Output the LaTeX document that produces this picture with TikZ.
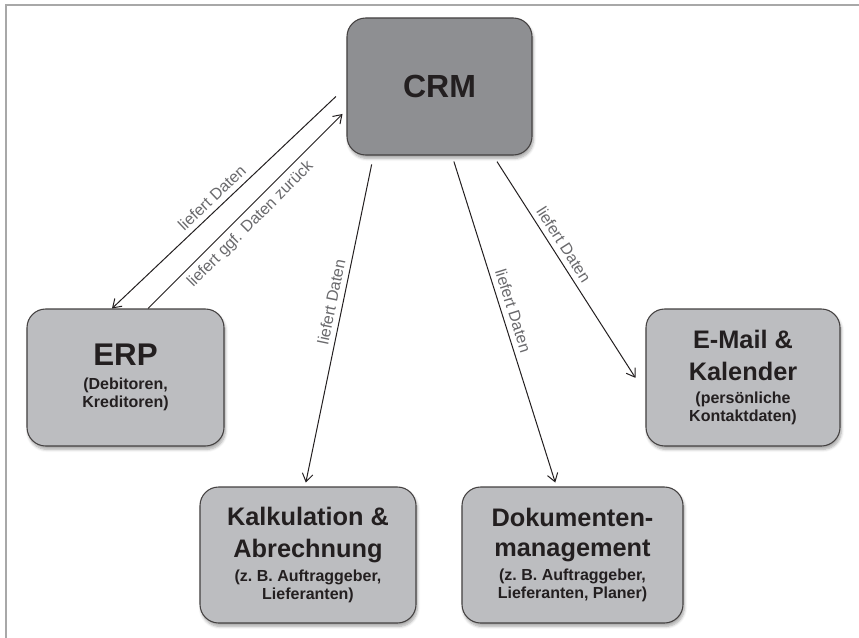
\documentclass[tikz,border=0pt]{standalone}
\usepackage{fontspec}
\setmainfont{Liberation Sans}
\usetikzlibrary{arrows.meta,shadows.blur}
\definecolor{boxgray}{RGB}{188,189,192}
\definecolor{crmgray}{RGB}{142,143,146}
\definecolor{ink}{RGB}{35,31,32}
\definecolor{labgray}{RGB}{105,105,108}
\definecolor{framegray}{RGB}{168,168,168}
\newcommand\boxhead{\fontsize{19}{23}\selectfont}
\begin{document}
\begin{tikzpicture}[x=0.75pt,y=-0.75pt,line width=0.75pt,>={Straight Barb[length=6pt,width=8pt]},
box/.style={draw=ink!85,line width=0.8pt,fill=boxgray,rounded corners=14pt,align=center,text=ink,font=\bfseries\fontsize{12}{13.5}\selectfont,blur shadow={shadow xshift=1pt,shadow yshift=-2.5pt,shadow blur steps=6,shadow opacity=35}},
lab/.style={sloped,above=2pt,inner sep=2pt,text=labgray,font=\fontsize{12}{14}\selectfont},
lab1/.style={sloped,below=2pt,inner sep=2pt,text=labgray,font=\fontsize{12}{14}\selectfont}]
\useasboundingbox (0,0) rectangle (859,638);
\draw[framegray,line width=1.3pt] (5.8,638) -- (5.8,4.8) -- (859,4.8);
\node[box,fill=crmgray,minimum width=138.75pt,minimum height=102.75pt] (crm) at (439.5,86.5) {\fontsize{24}{28}\selectfont CRM};
\node[box,minimum width=147.75pt,minimum height=102.75pt] (erp) at (125.5,377.5) {{\fontsize{23.5}{28}\selectfont ERP}\\[4pt](Debitoren,\\Kreditoren)};
\node[box,minimum width=162pt,minimum height=102pt] (kalk) at (308,555) {{\boxhead Kalkulation \&}\\[9pt]{\boxhead Abrechnung}\\[4pt](z.~B. Auftraggeber,\\Lieferanten)};
\node[box,minimum width=165.75pt,minimum height=102pt] (dok) at (572.5,555) {{\boxhead Dokumenten-}\\[9pt]{\boxhead management}\\[4pt](z.~B. Auftraggeber,\\Lieferanten, Planer)};
\node[box,minimum width=145.5pt,minimum height=102.75pt] (mail) at (743,377.5) {{\boxhead E-Mail \&}\\[9pt]{\boxhead Kalender}\\[4pt](persönliche\\Kontaktdaten)};
\draw[ink,->,shorten <=10.9pt] (crm.west) -- ([shift={(-13.5,0)}]erp.north) node[lab,pos=0.54]{liefert Daten};
\draw[ink,->,shorten >=4.2pt] ([shift={(22.5,0)}]erp.north) -- ([shift={(0,23.5)}]crm.west) node[lab1,pos=0.47]{liefert ggf. Daten zurück};
\draw[ink,->,shorten <=6.8pt,shorten >=3pt] ([shift={(-66,0)}]crm.south) -- ([shift={(-3,0)}]kalk.north) node[lab,pos=0.45]{liefert Daten};
\draw[ink,->,shorten <=4.7pt,shorten >=3.1pt] ([shift={(12.5,0)}]crm.south) -- ([shift={(-16,0)}]dok.north) node[lab,pos=0.48]{liefert Daten};
\draw[ink,->,shorten <=5.4pt,shorten >=13.9pt] ([shift={(53.6,0)}]crm.south) -- ([shift={(0,16)}]mail.west) node[lab,pos=0.40]{liefert Daten};
\end{tikzpicture}
\end{document}
